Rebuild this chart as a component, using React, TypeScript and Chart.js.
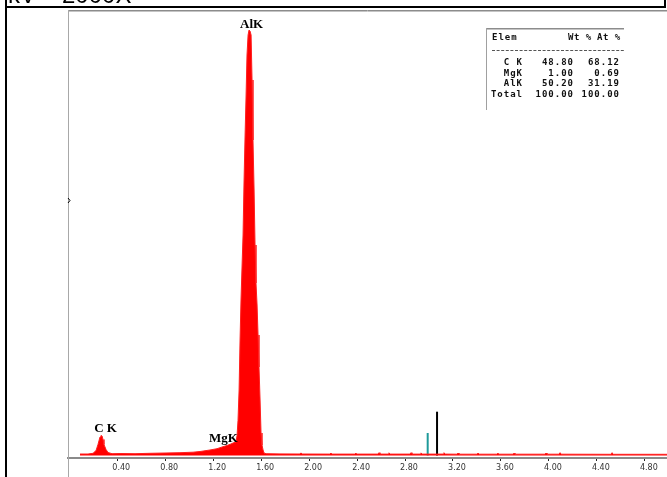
import React, { useEffect, useRef } from 'react';
import { Chart, registerables } from 'chart.js';
Chart.register(...registerables);

// Energy (keV) and counts of the EDS spectrum
const spectrumKeV = [
  0.089, 0.156, 0.198, 0.223, 0.239, 0.256, 0.264, 0.273, 0.281, 0.289, 0.306, 0.323, 0.356,
  0.423, 0.548, 0.673, 0.798, 0.923, 1.032, 1.090, 1.173, 1.232, 1.282, 1.315, 1.348, 1.365,
  1.390, 1.399, 1.407, 1.416, 1.424, 1.432, 1.441, 1.449, 1.457, 1.466, 1.474, 1.482, 1.491,
  1.499, 1.507, 1.516, 1.524, 1.532, 1.541, 1.549, 1.557, 1.566, 1.574, 1.582, 1.591, 1.599,
  1.607, 1.616, 1.624, 1.641, 1.757,
  1.924, 1.932, 1.940, 2.174, 2.182, 2.190, 2.382, 2.390, 2.398, 2.575, 2.583, 2.591,
  2.658, 2.666, 2.674, 2.842, 2.850, 2.858, 2.925, 2.933, 2.941, 3.117, 3.125, 3.133,
  3.234, 3.242, 3.250, 3.401, 3.409, 3.417, 3.567, 3.575, 3.583, 3.701, 3.709, 3.717,
  3.968, 3.976, 3.984, 4.085, 4.093, 4.101, 4.519, 4.527, 4.535, 4.985,
];
const spectrumCounts = [
  15, 15, 22, 50, 110, 185, 200, 195, 160, 110, 60, 30, 18,
  20, 18, 22, 25, 28, 33, 40, 55, 68, 88, 100, 115, 125,
  135, 200, 350, 655, 1155, 1555, 1905, 2205, 2725, 3205, 3585, 4005, 4205,
  4255, 4245, 4205, 3755, 3155, 2655, 2105, 1725, 1505, 1205, 885, 555, 225,
  105, 55, 25, 18, 16,
  15, 26, 15, 14, 25, 14, 14, 24, 14, 14, 28, 14,
  14, 27, 14, 14, 28, 14, 14, 26, 14, 14, 28, 14,
  13, 25, 13, 13, 25, 13, 13, 24, 13, 13, 24, 13,
  13, 25, 13, 13, 28, 13, 12, 28, 12, 12,
];

const tickKeV = [0.4, 0.8, 1.2, 1.6, 2.0, 2.4, 2.8, 3.2, 3.6, 4.0, 4.4, 4.8];

const peakLabels = ['C K', 'MgK', 'AlK'];
const peakLabelKeV = [0.302, 1.286, 1.52];
const peakLabelCounts = [235, 135, 4275];

const markerKeV = [2.989, 3.067];
const markerCounts = [225, 438];
const markerColors = ['#1f9a9a', '#000000'];

const tableHeader = ['Elem', 'Wt %', 'At %'];
const tableElements = ['C K', 'MgK', 'AlK', 'Total'];
const tableWt = ['48.80', '1.00', '50.20', '100.00'];
const tableAt = ['68.12', '0.69', '31.19', '100.00'];

const decorPlugin = {
  id: 'decor',
  beforeDraw(chart: any) {
    const ctx = chart.ctx;
    ctx.save();
    ctx.fillStyle = '#ffffff';
    ctx.fillRect(0, 0, chart.width, chart.height);
    ctx.restore();
  },
  afterDraw(chart: any) {
    const ctx = chart.ctx;
    const { left, top } = chart.chartArea;
    const x = chart.scales.x;
    const y = chart.scales.y;
    ctx.save();
    // outer black frame
    ctx.strokeStyle = '#000';
    ctx.lineWidth = 2;
    ctx.beginPath();
    ctx.moveTo(6, 0);
    ctx.lineTo(6, chart.height);
    ctx.moveTo(5, 7);
    ctx.lineTo(666, 7);
    ctx.moveTo(665, 0);
    ctx.lineTo(665, 7);
    ctx.stroke();
    // clipped caption text at top
    ctx.fillStyle = '#000';
    ctx.font = '24px "Liberation Sans"';
    ctx.textBaseline = 'alphabetic';
    ctx.textAlign = 'left';
    ctx.fillText('kV', 8, 2.5);
    ctx.fillText('2000X', 62, 2.5);
    // plot frame (grey)
    ctx.lineWidth = 1;
    ctx.strokeStyle = '#8c8c8c';
    ctx.beginPath();
    ctx.moveTo(left, top - 0.5);
    ctx.lineTo(chart.width, top - 0.5);
    ctx.stroke();
    ctx.strokeStyle = '#c4c4c4';
    ctx.beginPath();
    ctx.moveTo(left, top + 0.5);
    ctx.lineTo(chart.width, top + 0.5);
    ctx.stroke();
    ctx.strokeStyle = '#a8a8a8';
    ctx.beginPath();
    ctx.moveTo(left + 0.5, top - 1);
    ctx.lineTo(left + 0.5, chart.height);
    ctx.stroke();
    // small mark on left axis
    ctx.strokeStyle = '#000';
    ctx.beginPath();
    ctx.moveTo(left, 198);
    ctx.lineTo(left + 2, 200.5);
    ctx.lineTo(left, 203);
    ctx.stroke();
    // peak labels
    ctx.font = 'bold 13px "Liberation Serif"';
    ctx.textAlign = 'center';
    ctx.fillStyle = '#000';
    peakLabels.forEach((t, i) => {
      ctx.fillText(t, x.getPixelForValue(peakLabelKeV[i]), y.getPixelForValue(peakLabelCounts[i]));
    });
    // quantification table
    ctx.strokeStyle = '#8c8c8c';
    ctx.beginPath();
    ctx.moveTo(486, 28.5);
    ctx.lineTo(624, 28.5);
    ctx.stroke();
    ctx.strokeStyle = '#c4c4c4';
    ctx.beginPath();
    ctx.moveTo(486, 29.5);
    ctx.lineTo(624, 29.5);
    ctx.stroke();
    ctx.strokeStyle = '#a0a0a0';
    ctx.beginPath();
    ctx.moveTo(486.5, 28);
    ctx.lineTo(486.5, 110);
    ctx.stroke();
    ctx.fillStyle = '#111';
    ctx.font = 'bold 9px "DejaVu Sans Mono"';
    (ctx as any).letterSpacing = '1px';
    ctx.textAlign = 'left';
    ctx.fillText(tableHeader[0], 492, 39.5);
    (ctx as any).letterSpacing = '0.5px';
    ctx.fillText(tableHeader[1], 568, 39.5);
    ctx.fillText(tableHeader[2], 597, 39.5);
    (ctx as any).letterSpacing = '1px';
    ctx.textAlign = 'right';
    ctx.strokeStyle = '#555';
    ctx.setLineDash([3, 1.6]);
    ctx.beginPath();
    ctx.moveTo(492, 50.5);
    ctx.lineTo(624, 50.5);
    ctx.stroke();
    ctx.setLineDash([]);
    tableElements.forEach((el, i) => {
      const by = 65 + i * 10.5;
      ctx.fillText(el, 523, by);
      ctx.fillText(tableWt[i], 574, by);
      ctx.fillText(tableAt[i], 620, by);
    });
    ctx.restore();
  },
};

export default function App() {
  const ref = useRef<HTMLCanvasElement>(null);
  useEffect(() => {
    const datasets: any[] = [
      {
        label: 'spectrum',
        data: spectrumKeV.map((k, i) => ({ x: k, y: spectrumCounts[i] })),
        borderColor: '#ff2020',
        borderWidth: 1,
        backgroundColor: '#ff0000',
        fill: 'origin',
        pointRadius: 0,
        tension: 0,
      },
    ];
    markerKeV.forEach((k, i) => {
      datasets.push({
        label: 'marker' + i,
        data: [
          { x: k, y: 0 },
          { x: k, y: markerCounts[i] },
        ],
        borderColor: markerColors[i],
        borderWidth: 2,
        pointRadius: 0,
        fill: false,
      });
    });
    const chart = new Chart(ref.current!, {
      type: 'line',
      data: { datasets },
      options: {
        animation: false,
        responsive: false,
        devicePixelRatio: 1,
        layout: { padding: { left: 68, top: 11, right: 0, bottom: 0 } },
        plugins: { legend: { display: false }, tooltip: { enabled: false } },
        scales: {
          x: {
            type: 'linear',
            min: -0.011,
            max: 4.985,
            afterBuildTicks: (s: any) => {
              s.ticks = tickKeV.map((v) => ({ value: v }));
            },
            afterFit: (s: any) => {
              s.height = 19;
            },
            ticks: {
              callback: (v: any) => Number(v).toFixed(2),
              font: { family: 'DejaVu Sans', size: 8 },
              color: '#333',
              padding: 2,
              maxRotation: 0,
              autoSkip: false,
              labelOffset: 4,
            },
            grid: { drawOnChartArea: false, drawTicks: true, tickLength: 3, color: '#222' },
            border: { display: true, color: '#8a8a8a', width: 2 },
          },
          y: { type: 'linear', display: false, min: -25, max: 4445 },
        },
      },
      plugins: [decorPlugin],
    });
    return () => chart.destroy();
  }, []);
  return (
    <div style={{ position: 'fixed', left: 0, top: 0, width: 667, height: 477, background: '#fff' }}>
      <canvas ref={ref} width={667} height={477} style={{ width: 667, height: 477, display: 'block' }} />
    </div>
  );
}
